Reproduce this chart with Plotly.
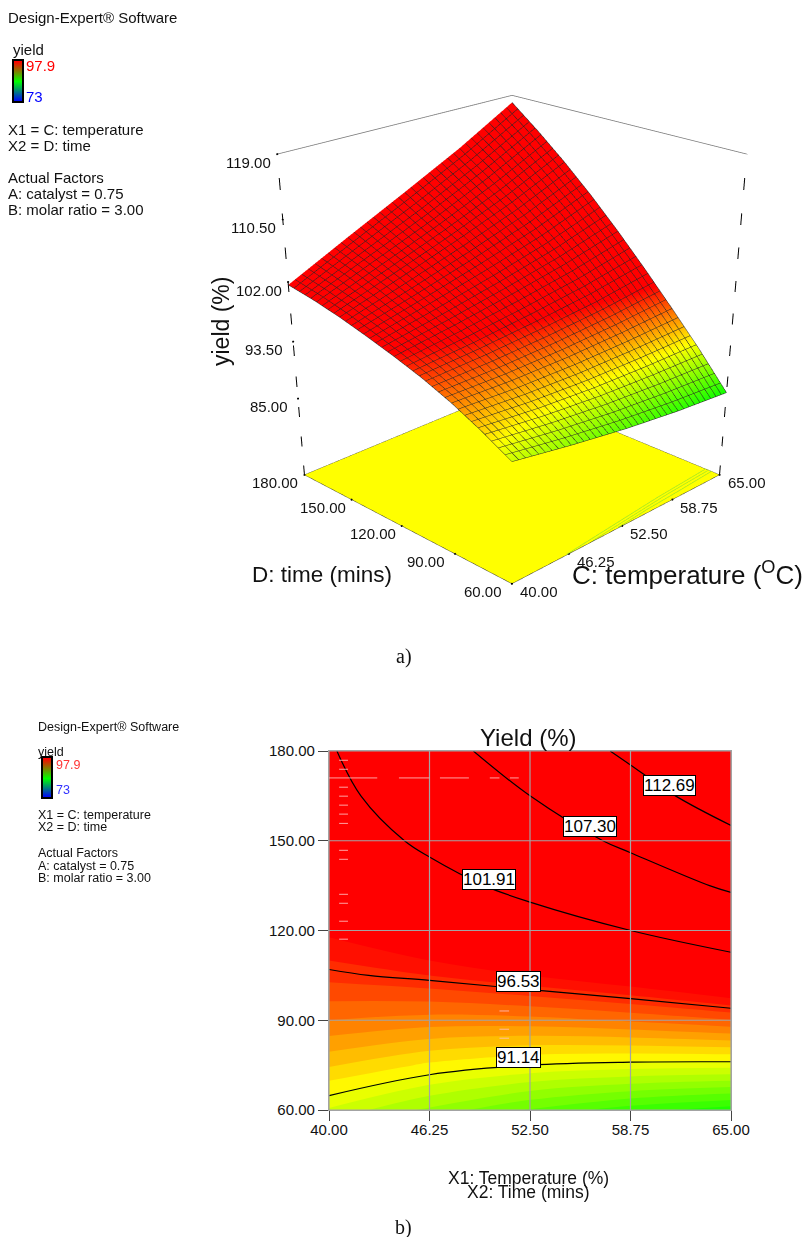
import plotly.graph_objects as go

W, H = 806, 1237

temperature = [40, 46.25, 52.5, 58.75, 65]
time_min = [60, 75, 90, 105, 120, 135, 150, 165, 180]
# yield per time row, per temperature column
yield_60 = [90.4, 88.9, 87.6, 86.6, 85.9]
yield_75 = [92.7, 91.75, 91.14, 90.88, 90.8]
yield_90 = [94.7, 94.4, 94.45, 94.8, 95.35]
yield_105 = [96.35, 96.8, 97.5, 98.4, 99.75]
yield_120 = [97.7, 98.9, 100.3, 101.91, 103.95]
yield_135 = [98.9, 100.8, 102.85, 105.1, 107.9]
yield_150 = [100.0, 102.55, 105.2, 108.1, 111.55]
yield_165 = [100.9, 104.1, 107.3, 110.9, 114.9]
yield_180 = [101.6, 105.6, 109.5, 113.5, 118.0]
yield_grid = [yield_60, yield_75, yield_90, yield_105, yield_120,
              yield_135, yield_150, yield_165, yield_180]

temp_ticks = [40, 46.25, 52.5, 58.75, 65]
temp_labels = ["40.00", "46.25", "52.50", "58.75", "65.00"]
time_ticks = [60, 90, 120, 150, 180]
time_labels = ["60.00", "90.00", "120.00", "150.00", "180.00"]
z_ticks = [85, 93.5, 102, 110.5, 119]
z_labels = ["85.00", "93.50", "102.00", "110.50", "119.00"]
floor_level = 73
z_top = 119

contour_first, contour_last, contour_step = 91.14, 112.69, 5.3875
contour_label_text = ["112.69", "107.30", "101.91", "96.53", "91.14"]
contour_label_x = [61.2, 56.2, 49.95, 51.8, 51.8]
contour_label_y = [168.6, 154.6, 137.2, 103.1, 77.7]

# pale artefact dashes on the 2D map
dash_left_y = [176.9, 173.9, 167.9, 164.9, 161.9, 158.9, 155.8, 146.8, 143.8, 132.1, 129.1, 123.1, 117.1]
dash_row_x0 = [40.0, 44.35, 46.9, 50.0, 51.25]
dash_row_x1 = [43.0, 46.25, 48.7, 50.6, 51.8]
dash_mid_y = [93.1, 87.0, 84.0]

# faint floor contours near the front-right edge of the 3D base
floor_line_x = [[46, 52, 58, 65], [49, 54, 59, 65], [52, 56, 60, 65]]
floor_line_y = [[60, 62.5, 65, 67], [60, 62, 64, 65.5], [60, 61.5, 62.5, 64]]

rainbow = [[0, "#0000ff"], [0.25, "#00ffff"], [0.5, "#00ff00"], [0.75, "#ffff00"], [1, "#ff0000"]]
legend_scale = [[0, "#0000ff"], [0.5, "#00ff00"], [1, "#ff0000"]]
legend_values = [[73], [85.45], [97.9]]
FONT = "Liberation Sans, Arial, sans-serif"

fig = go.Figure()

# ---------- 3D ----------
fig.add_trace(go.Surface(
    x=temperature, y=time_min, z=[[floor_level] * len(temperature) for _ in time_min],
    colorscale=[[0, "#ffff00"], [1, "#ffff00"]], showscale=False,
    lighting=dict(ambient=1, diffuse=0, specular=0, roughness=1, fresnel=0),
    hoverinfo="skip"))
fig.add_trace(go.Surface(
    x=temperature, y=time_min, z=yield_grid, colorscale=rainbow, cmin=73, cmax=97.9,
    showscale=False,
    lighting=dict(ambient=1, diffuse=0, specular=0, roughness=1, fresnel=0),
    contours=dict(
        x=dict(show=True, start=40, end=65, size=25 / 36, color="#262626", width=1),
        y=dict(show=True, start=60, end=180, size=120 / 36, color="#262626", width=1)),
    hoverinfo="skip"))


def line3d(xs, ys, zs, color="#222222", width=1, dash="solid"):
    fig.add_trace(go.Scatter3d(x=xs, y=ys, z=zs, mode="lines", showlegend=False,
                               line=dict(color=color, width=width, dash=dash), hoverinfo="skip"))


x0, x1, y0, y1 = temperature[0], temperature[-1], time_min[0], time_min[-1]
line3d([x0, x1, x1], [y1, y1, y0], [z_top, z_top, z_top], color="#777777", width=1.5)
line3d([x0, x0], [y1, y1], [floor_level, z_top], color="#000000", width=2, dash="longdash")
line3d([x1, x1], [y0, y0], [floor_level, z_top], color="#000000", width=2, dash="longdash")
line3d([x0, x0, x1, x1, x0], [y1, y0, y0, y1, y1], [floor_level] * 5, color="#333333")
for fx, fy in zip(floor_line_x, floor_line_y):
    line3d(fx, fy, [floor_level + 0.1] * len(fx), color="#a8e820", width=1.5)

# small tick dots on the three labelled edges
fig.add_trace(go.Scatter3d(
    x=[x0] * len(time_ticks) + temp_ticks + [x0] * len(z_ticks),
    y=time_ticks + [y0] * len(temp_ticks) + [y1] * len(z_ticks),
    z=[floor_level] * (len(time_ticks) + len(temp_ticks)) + z_ticks,
    mode="markers", marker=dict(size=1.2, color="#000000"), showlegend=False, hoverinfo="skip"))

scene_ann = []
for t, lab in zip(temp_ticks, temp_labels):
    scene_ann.append(dict(x=t, y=y0, z=floor_level, text=lab, showarrow=False,
                          xshift=27, yshift=-8, font=dict(family=FONT, size=15, color="#111")))
for t, lab in zip(time_ticks, time_labels):
    scene_ann.append(dict(x=x0, y=t, z=floor_level, text=lab, showarrow=False,
                          xshift=-29, yshift=-8, font=dict(family=FONT, size=15, color="#111")))
for t, lab in zip(z_ticks, z_labels):
    scene_ann.append(dict(x=x0, y=y1, z=t, text=lab, showarrow=False,
                          xshift=-29, yshift=-8, font=dict(family=FONT, size=15, color="#111")))

axis3d = dict(visible=False, showgrid=False, zeroline=False, showline=False,
              showticklabels=False, showbackground=False, showspikes=False, autorange=False)

# ---------- 2D ----------
fig.add_trace(go.Contour(
    x=temperature, y=time_min, z=yield_grid, colorscale=rainbow, zmin=73, zmax=97.9,
    autocontour=False, contours=dict(coloring="fill", start=73, end=120, size=0.7, showlines=False),
    line=dict(width=0), showscale=False, hoverinfo="skip", xaxis="x", yaxis="y"))
fig.add_trace(go.Contour(
    x=temperature, y=time_min, z=yield_grid, autocontour=False,
    contours=dict(coloring="none", start=contour_first, end=contour_last, size=contour_step, showlabels=False),
    line=dict(color="#000000", width=1.2, smoothing=1.0), showscale=False, hoverinfo="skip",
    xaxis="x", yaxis="y"))

for t in temp_ticks:
    fig.add_trace(go.Scatter(x=[t, t], y=[y0, y1], mode="lines", line=dict(color="#a3a3a3", width=1.2),
                             showlegend=False, hoverinfo="skip", xaxis="x", yaxis="y"))
for t in time_ticks:
    fig.add_trace(go.Scatter(x=[x0, x1], y=[t, t], mode="lines", line=dict(color="#a3a3a3", width=1.2),
                             showlegend=False, hoverinfo="skip", xaxis="x", yaxis="y"))

dx, dy = [], []
for v in dash_left_y:
    dx += [40.63, 41.18, None]
    dy += [v, v, None]
for a, b in zip(dash_row_x0, dash_row_x1):
    dx += [a, b, None]
    dy += [171, 171, None]
for v in dash_mid_y:
    dx += [50.6, 51.2, None]
    dy += [v, v, None]
fig.add_trace(go.Scatter(x=dx, y=dy, mode="lines", line=dict(color="rgba(255,190,190,0.85)", width=1),
                         showlegend=False, hoverinfo="skip", xaxis="x", yaxis="y"))

# legend bars
for xa, ya in (("x2", "y2"), ("x3", "y3")):
    fig.add_trace(go.Heatmap(z=legend_values, x=[0], y=[73, 85.45, 97.9], colorscale=legend_scale,
                             zmin=73, zmax=97.9, zsmooth="best", showscale=False, hoverinfo="skip",
                             xaxis=xa, yaxis=ya))


def px(x):
    return x / W


def py(y):
    return 1 - y / H


plain = dict(showticklabels=False, ticks="", showgrid=False, zeroline=False, showline=True,
             mirror=True, linecolor="#000000", linewidth=2)

ann = []


def text(x, y, s, size, color="#111111", anchor="left", family=FONT, angle=0):
    ann.append(dict(xref="paper", yref="paper", x=px(x), y=py(y), text=s, showarrow=False,
                    xanchor=anchor, yanchor="middle", textangle=angle,
                    font=dict(family=family, size=size, color=color)))


info_top = [(17, "Design-Expert® Software"), (49, "yield"), (129, "X1 = C: temperature"),
            (146, "X2 = D: time"), (177, "Actual Factors"), (193, "A: catalyst = 0.75"),
            (209, "B: molar ratio = 3.00")]
for y, s in info_top:
    text(11 if s == "yield" else 6, y, s, 15)
text(24, 65, "97.9", 15, color="#ff0000")
text(24, 97, "73", 15, color="#0000ff")

info_bot = [(727, "Design-Expert® Software"), (752, "yield"), (815, "X1 = C: temperature"),
            (827, "X2 = D: time"), (853, "Actual Factors"), (866, "A: catalyst = 0.75"),
            (878, "B: molar ratio = 3.00")]
for y, s in info_bot:
    text(36, y, s, 12.5)
text(54, 765, "97.9", 12.5, color="#ff3333")
text(54, 790, "73", 12.5, color="#3333ff")

text(322, 574, "D: time (mins)", 22.5, anchor="center")
text(687, 573, "C: temperature (<sup>O</sup>C)", 26, anchor="center")
text(221, 321, "yield (%)", 23, anchor="center", angle=-90)
text(404, 656, "a)", 20, anchor="center", family="Liberation Serif, Times New Roman, serif")
text(404, 1227, "b)", 20, anchor="center", family="Liberation Serif, Times New Roman, serif")
text(528, 737, "Yield (%)", 24, anchor="center")
text(528, 1178, "X1: Temperature (%)", 17.5, anchor="center")
text(528, 1192, "X2: Time (mins)", 17.5, anchor="center")

for s, a, b in zip(contour_label_text, contour_label_x, contour_label_y):
    ann.append(dict(xref="x", yref="y", x=a, y=b, text=s, showarrow=False, bgcolor="#ffffff",
                    bordercolor="#000000", borderwidth=1, borderpad=0,
                    font=dict(family=FONT, size=17, color="#000000")))

tick2d = dict(ticks="outside", ticklen=10, tickcolor="#444444", showgrid=False, zeroline=False,
              showline=True, mirror=True, linecolor="#a3a3a3", linewidth=1.2,
              tickfont=dict(family=FONT, size=15, color="#111111"))

fig.update_layout(
    width=W, height=H, autosize=False, margin=dict(l=0, r=0, t=0, b=0, autoexpand=False),
    paper_bgcolor="#ffffff", plot_bgcolor="#ffffff", showlegend=False,
    annotations=ann,
    xaxis=dict(domain=[px(329), px(731)], range=[40, 65], tickvals=temp_ticks, ticktext=temp_labels,
               anchor="y", ticklabelstandoff=-4, **tick2d),
    yaxis=dict(domain=[py(1110), py(751)], range=[60, 180], tickvals=time_ticks, ticktext=time_labels,
               anchor="x", **tick2d),
    xaxis2=dict(domain=[px(14), px(22)], anchor="y2", **plain),
    yaxis2=dict(domain=[py(101), py(61)], anchor="x2", range=[73, 97.9], **plain),
    xaxis3=dict(domain=[px(43), px(51)], anchor="y3", **plain),
    yaxis3=dict(domain=[py(797), py(758)], anchor="x3", range=[73, 97.9], **plain),
    scene=dict(
        domain=dict(x=[218 / W, 1], y=[0, 1]),
        xaxis=dict(range=[39.8, 65.2], **axis3d),
        yaxis=dict(range=[59, 181], **axis3d),
        zaxis=dict(range=[floor_level - 0.5, z_top + 0.5], **axis3d),
        aspectmode="manual", aspectratio=dict(x=1.06, y=1.06, z=1.155),
        camera=dict(eye=dict(x=-3.344, y=-3.344, z=1.894), center=dict(x=-0.379, y=-0.379, z=-0.826),
                    up=dict(x=0, y=0, z=1)),
        annotations=scene_ann,
        bgcolor="rgba(0,0,0,0)"),
)

fig.write_html("out.html", config=dict(displayModeBar=False),
               post_script="document.body.style.margin='0';")
